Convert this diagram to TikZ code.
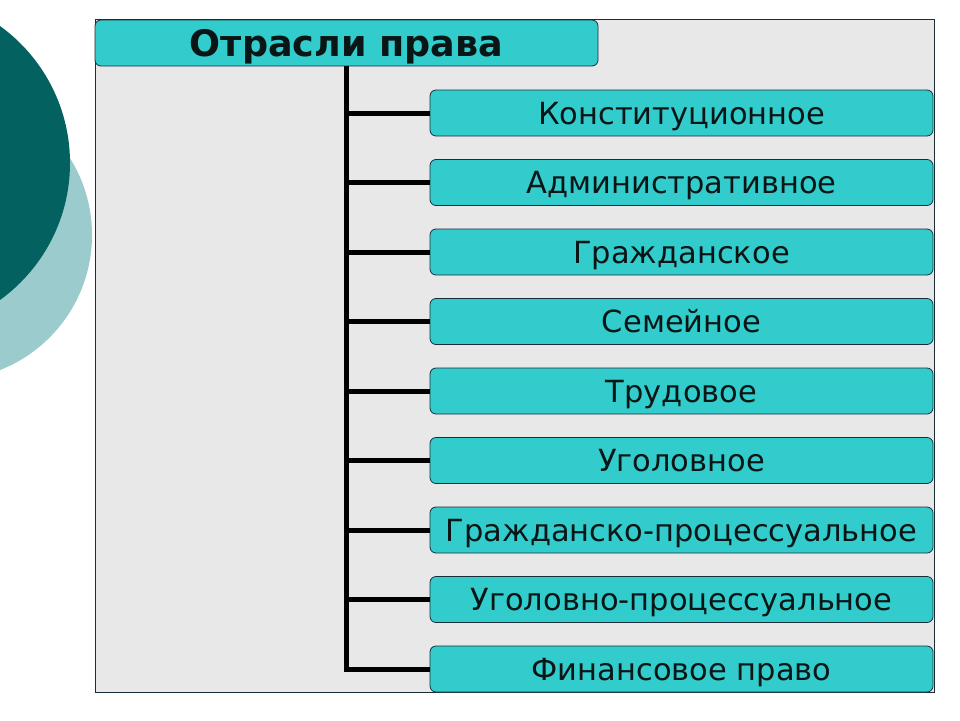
\documentclass[tikz,border=0pt]{standalone}
\usepackage{fontspec}
\setmainfont{DejaVu Sans}
\definecolor{boxcyan}{HTML}{33CCCC}
\definecolor{darkteal}{HTML}{03625F}
\definecolor{lightteal}{HTML}{9BCBCD}
\definecolor{panelgray}{HTML}{E8E8E8}
\definecolor{edge}{HTML}{1A2E3A}
\definecolor{txt}{HTML}{0A1515}
\tikzset{
  hdr/.style={draw=edge, line width=0.8pt, fill=boxcyan, rounded corners=6pt,
    minimum width=503pt, minimum height=46pt, inner sep=0pt,
    text height=26pt, text depth=0pt,
    font=\fontsize{36.5}{40}\selectfont\bfseries, text=txt},
  branch/.style={draw=edge, line width=0.8pt, fill=boxcyan, rounded corners=6pt,
    minimum width=503pt, minimum height=46pt, inner sep=0pt,
    text height=22pt, text depth=0pt,
    font=\fontsize{30.5}{34}\selectfont, text=txt},
  conn/.style={line width=5pt, black, line join=miter, line cap=butt}
}
\begin{document}
\begin{tikzpicture}[x=1pt,y=-1pt]
\useasboundingbox (0,0) rectangle (960,720);
\clip (0,0) rectangle (960,720);
\fill[white] (0,0) rectangle (960,720);
\fill[lightteal] (-53,235) circle (145pt);
\fill[darkteal] (-99,163) circle (169pt);
\draw[edge, line width=0.8pt, fill=panelgray] (95,19) rectangle (934,692);
\node[hdr] (h) at (346.5,43) {Отрасли права};
\node[branch] (c1) at (681.5,113) {Конституционное};
\node[branch] (c2) at (681.5,182.5) {Административное};
\node[branch] (c3) at (681.5,252) {Гражданское};
\node[branch] (c4) at (681.5,321.5) {Семейное};
\node[branch] (c5) at (681.5,391) {Трудовое};
\node[branch] (c6) at (681.5,460.5) {Уголовное};
\node[branch] (c7) at (681.5,530) {Гражданско-процессуальное};
\node[branch] (c8) at (681.5,599.5) {Уголовно-процессуальное};
\node[branch] (c9) at (681.5,669) {Финансовое право};
\coordinate (tb) at (346,669);
\draw[conn] (h.south -| tb) -- (tb) -- (c9.west);
\foreach \i in {1,...,8} {
  \draw[conn] (c\i.west) -- (c\i.west -| tb);
}
\end{tikzpicture}
\end{document}
